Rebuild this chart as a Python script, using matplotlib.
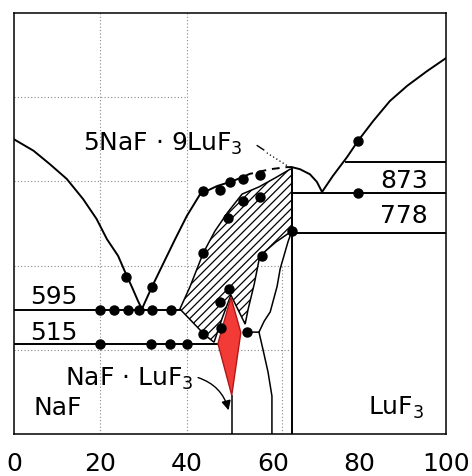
import numpy as np
import matplotlib.pyplot as plt
from matplotlib.patches import Polygon

# liquidus branches (mol% LuF3, deg C)
naf_liq_x = [0, 4.5, 8.3, 12.2, 16.0, 19.1, 21.5, 24.1, 25.7, 27.3, 28.7, 29.6]
naf_liq_t = [1000, 973, 941, 906, 858, 811, 763, 723, 685, 649, 616, 597]

mid_liq_x = [29.6, 31.9, 34.5, 37.3, 40.0, 43.1, 47.0, 50.7]
mid_liq_t = [597, 649, 704, 763, 818, 870, 889, 901]
mid_dash_x = [50.7, 54.6, 59.3, 63.2, 64.3]
mid_dash_t = [901, 918, 929, 934, 934]

dome_x = [64.3, 66.2, 68.5, 70.1, 71.3]
dome_t = [934, 929, 917, 899, 875]

luf3_liq_x = [71.3, 73.8, 77.1, 79.6, 83.1, 87.0, 91.0, 95.6, 100]
luf3_liq_t = [875, 913, 958, 996, 1043, 1091, 1127, 1162, 1193]

# two-phase (hatched) field outline
hatch_x = [38.4, 40.7, 43.8, 46.5, 49.5, 52.8, 56.7, 60.4, 63.9, 64.3, 64.3,
           60.6, 56.9, 55.6, 54.2, 53.5, 50.2, 48.1, 46.3, 44.2]
hatch_t = [597, 649, 730, 782, 827, 870, 887, 908, 929, 929, 782,
           756, 723, 656, 597, 561, 630, 573, 518, 535]

# NaF.LuF3 field (red)
red_x = [50.2, 52.5, 50.4, 47.2]
red_t = [625, 541, 392, 515]

# phase boundaries right of the red field
up_x = [53.9, 56.7, 57.9, 59.3, 60.9, 61.6, 63.4, 64.3]
up_t = [542, 542, 568, 590, 651, 692, 756, 782]
down_x = [56.7, 57.6, 58.8, 59.7, 59.7]
down_t = [542, 502, 447, 390, 300]

# isotherms
iso_595_x = [0, 38.4]
iso_515_x = [0, 47.2]
iso_873_x = [64.3, 100]
iso_778_x = [64.3, 100]

# measured points
pts_x = [19.9, 23.1, 26.4, 28.9, 31.9, 36.3,
         19.9, 31.7, 36.1, 40.0,
         25.9, 31.9,
         43.8, 47.7, 50.0, 53.0, 56.9,
         43.8, 49.5, 53.0, 56.9,
         47.7, 49.8, 47.9, 43.8, 53.9, 57.4, 64.4,
         79.6, 79.6]
pts_t = [595, 595, 595, 595, 595, 595,
         515, 515, 515, 515,
         673, 649,
         877, 880, 898, 906, 915,
         730, 813, 853, 863,
         613, 644, 552, 537, 542, 723, 782,
         996, 873]

xticks = [0, 20, 40, 60, 80, 100]

plt.rcParams['hatch.linewidth'] = 0.9
plt.rcParams['mathtext.fontset'] = 'dejavusans'

fig = plt.figure(figsize=(4.72, 4.77), dpi=100)
ax = fig.add_axes([0.0297, 0.088, 0.9153, 0.8826])
ax.set_xlim(0, 100)
ax.set_ylim(300, 1300)

lw = 1.4
grid = dict(color='#888888', lw=0.8, ls=(0, (1, 2)), zorder=1)
ax.vlines([20, 40], 300, 1300, **grid)
ax.vlines([62], 300, 700, **grid)
ax.hlines([1100, 900], 0, 40, **grid)
ax.hlines([700, 500], 0, 64.3, **grid)

ax.add_patch(Polygon(np.column_stack([hatch_x, hatch_t]), closed=True,
                     facecolor='white', edgecolor='black', hatch='////', lw=1.1, zorder=2))
ax.add_patch(Polygon(np.column_stack([red_x, red_t]), closed=True,
                     facecolor='#f23a36', edgecolor='#b01818', lw=1.0, zorder=3))

ax.plot(naf_liq_x, naf_liq_t, color='black', lw=lw)
ax.plot(mid_liq_x, mid_liq_t, color='black', lw=lw)
ax.plot(mid_dash_x, mid_dash_t, color='black', lw=lw, ls=(0, (4, 3)))
ax.plot(dome_x, dome_t, color='black', lw=lw)
ax.plot(luf3_liq_x, luf3_liq_t, color='black', lw=lw)
ax.plot(up_x, up_t, color='black', lw=1.1)
ax.plot(down_x, down_t, color='black', lw=1.1)

ax.plot(iso_595_x, [595, 595], color='black', lw=lw)
ax.plot(iso_515_x, [515, 515], color='black', lw=lw)
ax.plot(iso_873_x, [873, 873], color='black', lw=lw)
ax.plot(iso_778_x, [778, 778], color='black', lw=lw)
ax.plot([76.9, 100], [945, 945], color='black', lw=lw)

ax.vlines(64.3, 300, 934, color='black', lw=lw)
ax.vlines(50.4, 300, 392, color='black', lw=1.1)

ax.plot(pts_x, pts_t, 'o', color='black', ms=6.5, zorder=5)

fs = 18
ax.text(16.0, 975, r'5NaF $\cdot$ 9LuF$_3$', fontsize=fs, va='baseline')
ax.plot([56.3, 57.8], [985, 975], color='black', lw=1)
ax.plot([58.5, 63.6], [968, 935], color='black', lw=0.9, ls=(0, (1, 2)))
ax.text(84.7, 887, '873', fontsize=fs, va='baseline')
ax.text(84.7, 803, '778', fontsize=fs, va='baseline')
ax.text(3.7, 611, '595', fontsize=fs, va='baseline')
ax.text(3.7, 526, '515', fontsize=fs, va='baseline')
ax.text(11.8, 417, r'NaF $\cdot$ LuF$_3$', fontsize=fs, va='baseline')
ax.text(4.4, 348, 'NaF', fontsize=fs, va='baseline')
ax.text(82.0, 348, r'LuF$_3$', fontsize=fs, va='baseline')
ax.annotate('', xy=(49.8, 350), xytext=(42.0, 436),
            arrowprops=dict(arrowstyle='-|>', color='black', lw=1.0,
                            connectionstyle='arc3,rad=-0.3', mutation_scale=14))

ax.set_xticks(xticks)
ax.set_xticklabels([str(v) for v in xticks], fontsize=fs)
ax.tick_params(axis='x', length=0, pad=12)
ax.set_yticks([])
for s in ax.spines.values():
    s.set_linewidth(1.1)

fig.savefig('out.png', dpi=100)
